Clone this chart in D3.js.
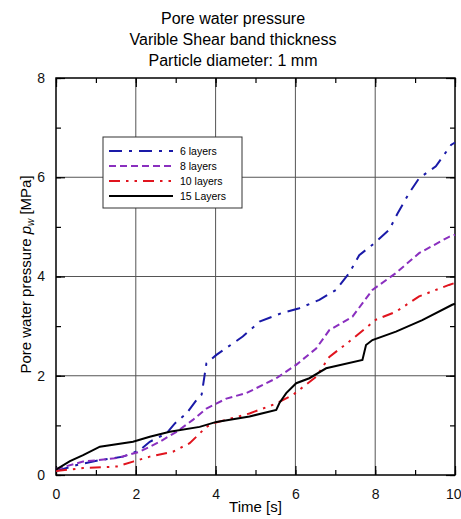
<!DOCTYPE html>
<html>
<head>
<meta charset="utf-8">
<script src="https://cdn.jsdelivr.net/npm/d3@7"></script>
<style>
  body { margin: 0; background: #fff; }
  svg { font-family: Arial, "Liberation Sans", sans-serif; }
</style>
</head>
<body>
<div id="chart"></div>
<script>
// values: [time s, pressure MPa]
const titleLines = ["Pore water pressure", "Varible Shear band thickness", "Particle diameter: 1 mm"];
const xTicks = [0, 2, 4, 6, 8, 10];
const yTicks = [0, 2, 4, 6, 8];

const layers6 = [[0, 0.08], [0.52, 0.2], [1.1, 0.3], [1.68, 0.37], [2.1, 0.5], [2.35, 0.67], [2.77, 0.84],
  [2.98, 1.04], [3.27, 1.24], [3.52, 1.51], [3.65, 1.62], [3.77, 2.25], [4.02, 2.42], [4.68, 2.79], [5.1, 3.09],
  [5.68, 3.27], [6.1, 3.36], [6.6, 3.53], [7.02, 3.73], [7.35, 4.07], [7.6, 4.43], [7.98, 4.67], [8.35, 4.94],
  [8.56, 5.27], [8.85, 5.68], [9.1, 5.98], [9.52, 6.22], [9.9, 6.65], [10, 6.7]];
const layers8 = [[0, 0.12], [0.68, 0.27], [1.52, 0.34], [2.1, 0.47], [2.6, 0.67], [3.02, 0.87], [3.43, 1.11],
  [3.77, 1.34], [4.27, 1.54], [4.77, 1.65], [5.52, 1.95], [6.02, 2.22], [6.52, 2.55], [6.85, 2.92], [7.43, 3.19],
  [7.93, 3.73], [8.52, 4.07], [9.1, 4.47], [9.85, 4.8], [10, 4.84]];
const layers10 = [[0, 0.08], [0.68, 0.14], [1.52, 0.17], [1.93, 0.27], [2.35, 0.37], [2.93, 0.47], [3.35, 0.64],
  [3.77, 0.97], [3.93, 1.04], [4.85, 1.24], [5.52, 1.44], [5.93, 1.61], [6.52, 1.98], [6.85, 2.38], [7.35, 2.69],
  [8.02, 3.13], [8.52, 3.29], [9.1, 3.6], [9.85, 3.83], [10, 3.87]];
const layers15 = [[0, 0.11], [0.35, 0.28], [0.68, 0.4], [1.1, 0.57], [1.93, 0.67], [2.35, 0.77], [2.85, 0.87],
  [3.6, 0.97], [4.02, 1.07], [4.85, 1.18], [5.52, 1.31], [5.6, 1.45], [5.77, 1.65], [6.02, 1.85], [6.35, 1.95],
  [6.77, 2.15], [7.68, 2.32], [7.77, 2.62], [7.93, 2.72], [8.52, 2.89], [9.18, 3.12], [9.93, 3.43], [10, 3.45]];

const series = [
  { name: "6 layers", data: layers6, color: "#1a1aa8", dash: "13,7,3,7" },
  { name: "8 layers", data: layers8, color: "#8a2fbf", dash: "7,4" },
  { name: "10 layers", data: layers10, color: "#e0141e", dash: "11,6,2.5,6,2.5,6" },
  { name: "15 Layers", data: layers15, color: "#000", dash: null }
];

const W = 461, H = 519;
const margin = { top: 78, right: 6, bottom: 44, left: 56 };
const width = W - margin.left - margin.right,
  height = H - margin.top - margin.bottom;

const root = d3.select("#chart").append("svg")
  .attr("width", W).attr("height", H);

root.selectAll("text.title")
  .data(titleLines)
  .enter().append("text")
  .attr("x", 233)
  .attr("y", (d, i) => 24 + i * 21)
  .attr("text-anchor", "middle")
  .attr("font-size", 16)
  .text(d => d);

const svg = root.append("g")
  .attr("transform", "translate(" + margin.left + "," + margin.top + ")");

const x = d3.scaleLinear().domain([0, 10]).range([0, width]);
const y = d3.scaleLinear().domain([0, 8]).range([height, 0]);

// grid
svg.append("g").selectAll("line")
  .data(xTicks.slice(1, -1))
  .enter().append("line")
  .attr("x1", d => x(d)).attr("x2", d => x(d))
  .attr("y1", 0).attr("y2", height)
  .attr("stroke", "#555").attr("stroke-width", 1);
svg.append("g").selectAll("line")
  .data(yTicks.slice(1, -1))
  .enter().append("line")
  .attr("y1", d => y(d)).attr("y2", d => y(d))
  .attr("x1", 0).attr("x2", width)
  .attr("stroke", "#555").attr("stroke-width", 1);

// axes with inward ticks
const xMinor = d3.range(0, 11);
const yMinor = d3.range(0, 9);
function tickAxis(axis, scale, vals, size) {
  return axis(scale).tickValues(vals).tickSize(size).tickFormat("");
}
svg.append("g").attr("transform", "translate(0," + height + ")")
  .call(tickAxis(d3.axisBottom, x, xMinor, -5));
const xAx = svg.append("g").attr("transform", "translate(0," + height + ")")
  .call(d3.axisBottom(x).tickValues(xTicks).tickSize(-9).tickPadding(14).tickFormat(d3.format("d")));
svg.append("g").call(tickAxis(d3.axisTop, x, xMinor, -5));
svg.append("g").call(tickAxis(d3.axisTop, x, xTicks, -9));
svg.append("g").call(tickAxis(d3.axisLeft, y, yMinor, -5));
svg.append("g")
  .call(d3.axisLeft(y).tickValues(yTicks).tickSize(-9).tickPadding(11).tickFormat(d3.format("d")));
svg.append("g").attr("transform", "translate(" + width + ",0)")
  .call(tickAxis(d3.axisRight, y, yMinor, -5));
svg.append("g").attr("transform", "translate(" + width + ",0)")
  .call(tickAxis(d3.axisRight, y, yTicks, -9));

svg.selectAll(".domain").remove();
svg.selectAll(".tick line").attr("stroke", "#000").attr("stroke-width", 1.2);
svg.selectAll(".tick text").attr("font-size", 14).attr("fill", "#111")
  .attr("font-family", "Arial, 'Liberation Sans', sans-serif");
// keep the last x label inside the window
xAx.selectAll(".tick text").filter(d => d === 10).attr("text-anchor", "end").attr("dx", 6);

svg.append("rect")
  .attr("width", width).attr("height", height)
  .attr("fill", "none").attr("stroke", "#000").attr("stroke-width", 1.5);

// lines
const line = d3.line().x(d => x(d[0])).y(d => y(d[1]));
svg.selectAll("path.series")
  .data(series)
  .enter().append("path")
  .attr("class", "series")
  .attr("d", d => line(d.data))
  .attr("fill", "none")
  .attr("stroke", d => d.color)
  .attr("stroke-width", 2)
  .attr("stroke-dasharray", d => d.dash);

// labels
root.append("text")
  .attr("x", margin.left + width / 2)
  .attr("y", 512)
  .attr("text-anchor", "middle")
  .attr("font-size", 15)
  .text("Time [s]");

const yl = root.append("text")
  .attr("transform", "translate(31," + (margin.top + height / 2 - 2) + ") rotate(-90)")
  .attr("text-anchor", "middle")
  .attr("font-size", 15);
yl.append("tspan").text("Pore water pressure ");
yl.append("tspan").attr("font-style", "italic").text("p");
yl.append("tspan").attr("font-size", 10).attr("font-style", "italic").attr("dy", 3).text("w");
yl.append("tspan").attr("dy", -3).text(" [MPa]");

// legend
const lg = root.append("g").attr("transform", "translate(103,137)");
lg.append("rect").attr("width", 139).attr("height", 71)
  .attr("fill", "#fff").attr("stroke", "#333").attr("stroke-width", 1);
const item = lg.selectAll("g.item")
  .data(series)
  .enter().append("g")
  .attr("transform", (d, i) => "translate(0," + (14 + i * 15) + ")");
item.append("line")
  .attr("x1", 6).attr("x2", 70)
  .attr("stroke", d => d.color)
  .attr("stroke-width", 2)
  .attr("stroke-dasharray", d => d.dash);
item.append("text")
  .attr("x", 77).attr("y", 4)
  .attr("font-size", 10.5)
  .text(d => d.name);
</script>
</body>
</html>
